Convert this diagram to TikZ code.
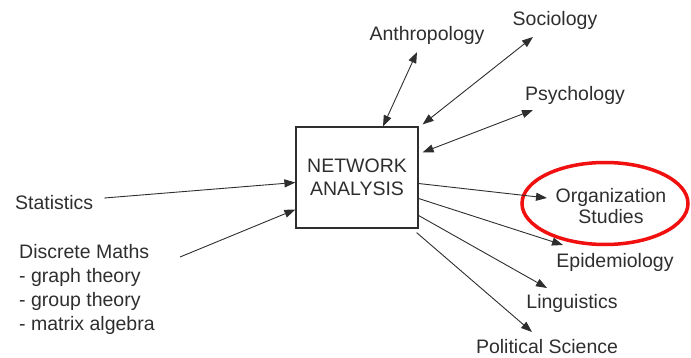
\documentclass[tikz,border=0pt]{standalone}
\usepackage{fontspec}
\setmainfont{Liberation Sans}
\usetikzlibrary{arrows.meta}
\definecolor{ink}{HTML}{2E2E2E}
\definecolor{ringred}{HTML}{F01010}
\tikzset{
  lbl/.style={inner sep=0pt, text=ink, font=\fontsize{19.5}{23.5}\selectfont},
  hub/.style={draw=ink, line width=1.2pt, minimum width=122pt, minimum height=101pt,
    inner sep=0pt, align=center, text=ink, font=\fontsize{19.5}{23}\selectfont},
  tip/.tip={Triangle[length=11pt,width=8pt]},
  link/.style={draw=ink, line width=0.9pt, -tip},
  twoway/.style={draw=ink, line width=0.9pt, tip-tip}
}
\begin{document}
\begin{tikzpicture}[x=1pt,y=-1pt]
\useasboundingbox (0,0) rectangle (691,358);

% central box
\node[hub] (na) at (357,177.5) {NETWORK\\ANALYSIS};

% surrounding fields
\node[lbl] (anthro) at (427,35) {Anthropology};
\node[lbl] (socio) at (555,20) {Sociology};
\node[lbl] (psych) at (575,95) {Psychology};
\node[lbl, anchor=west] (stat) at (15,203) {Statistics};
\node[lbl, anchor=north west, align=left, font=\fontsize{19.5}{24}\selectfont] (disc) at (19,244)
  {Discrete Maths\\- graph theory\\- group theory\\- matrix algebra};
\node[lbl, align=center, font=\fontsize{19.5}{21}\selectfont] (org) at (611,206) {Organization\\Studies};
\node[lbl] (epid) at (615,262) {Epidemiology};
\node[lbl] (ling) at (572,303) {Linguistics};
\node[lbl] (poli) at (547,347) {Political Science};

% highlight ring
\draw[ringred, line width=3.5pt] (605,203.5) ellipse [x radius=83pt, y radius=41pt];

% two-way links above the box
\draw[twoway] ([shift={(-10,17)}]anthro.center) -- ([xshift=26pt]na.north);
\draw[twoway] ([shift={(-22,17)}]socio.center) -- ([shift={(4,-2)}]na.north east);
\draw[twoway] ([shift={(-42,15)}]psych.center) -- ([shift={(4,26)}]na.north east);

% inputs on the left
\draw[link] ([shift={(11,-5)}]stat.east) -- ([yshift=-5pt]na.west);
\draw[link] ([shift={(161,13)}]disc.north west) -- ([yshift=-32pt]na.west);

% outputs on the right
\draw[link] ([yshift=-6pt]na.east) -- ([shift={(-64,-8)}]org.center);
\draw[link] ([yshift=-21pt]na.east) -- ([shift={(-52,-17)}]epid.center);
\draw[link] ([yshift=-38pt]na.east) -- ([shift={(-25,-15)}]ling.center);
\draw[link] ([shift={(-2,4)}]na.south east) -- ([shift={(-15,-15)}]poli.center);
\end{tikzpicture}
\end{document}
